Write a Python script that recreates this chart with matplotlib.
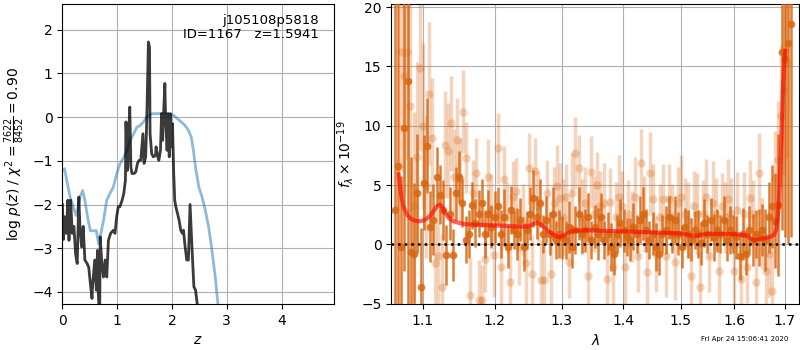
import numpy as np
import matplotlib
matplotlib.use("Agg")
import matplotlib.pyplot as plt

# left panel: smooth p(z) curve (blue) and noisy chi2-based curve (black)
z_smooth = [0.0, 0.04, 0.08, 0.14, 0.20, 0.25, 0.29, 0.32, 0.37, 0.41,
            0.46, 0.51, 0.57, 0.62, 0.66, 0.70, 0.75, 0.81, 0.87, 0.93,
            0.99, 1.05, 1.12, 1.18, 1.24, 1.30, 1.36, 1.42, 1.48, 1.54,
            1.60, 1.66, 1.79, 1.91, 2.03, 2.15, 2.23, 2.30, 2.35, 2.39,
            2.43, 2.49, 2.55, 2.61, 2.67, 2.73, 2.79, 2.84, 2.90]
logp_smooth = [-1.22, -1.18, -1.45, -1.83, -2.06, -2.25, -2.05, -1.83, -1.68, -1.9,
               -2.29, -2.6, -2.6, -2.6, -2.9, -2.67, -2.37, -1.9, -1.74, -1.6,
               -1.3, -1.07, -0.92, -0.76, -0.53, -0.38, -0.23, -0.19, -0.11, 0.0,
               0.06, 0.08, 0.08, 0.08, 0.04, -0.09, -0.18, -0.3, -0.45, -0.75,
               -1.15, -1.6, -1.83, -2.14, -2.52, -3.05, -3.66, -4.29, -5.0]

z_noisy = [0.0, 0.02, 0.04, 0.07, 0.10, 0.12, 0.15, 0.18, 0.21, 0.24,
           0.27, 0.30, 0.32, 0.35, 0.38, 0.41, 0.45, 0.48, 0.51, 0.54,
           0.55, 0.59, 0.62, 0.64, 0.66, 0.68, 0.69, 0.72, 0.75, 0.78,
           0.81, 0.84, 0.88, 0.93, 0.96, 0.99, 1.02, 1.05, 1.09, 1.12,
           1.15, 1.16, 1.19, 1.21, 1.23, 1.25, 1.27, 1.31, 1.34, 1.37,
           1.40, 1.43, 1.47, 1.49, 1.52, 1.54, 1.57, 1.59, 1.60, 1.63,
           1.66, 1.70, 1.71, 1.74, 1.76, 1.79, 1.81, 1.83, 1.85, 1.87,
           1.88, 1.91, 1.93, 1.95, 1.97, 1.99, 2.01, 2.03, 2.05, 2.07,
           2.10, 2.13, 2.16, 2.19, 2.21, 2.24, 2.27, 2.30, 2.33, 2.37,
           2.40, 2.43, 2.46, 2.49, 2.52]
logp_noisy = [-2.0, -2.8, -2.28, -2.66, -1.9, -2.82, -1.9, -2.66, -2.5, -3.12,
              -3.35, -1.83, -2.5, -2.97, -2.5, -3.27, -3.35, -3.43, -3.8, -4.15,
              -3.88, -3.27, -3.96, -3.05, -4.19, -4.6, -2.74, -3.35, -3.66, -3.27,
              -3.66, -2.82, -2.66, -2.59, -2.66, -2.28, -2.05, -2.05, -1.9, -1.75,
              -1.45, -0.11, -1.22, -0.38, 0.23, -1.14, -1.29, -1.29, -1.25, -1.06,
              -0.99, -0.99, -0.38, -1.06, -0.91, -0.04, 1.72, 1.6, -0.38, -0.84,
              -0.91, -0.87, -0.68, -0.91, -0.99, -0.76, 0.08, -0.53, 0.16, 0.77,
              0.16, -0.76, 0.08, -0.91, 0.08, -0.68, -0.15, -1.22, -1.9, -2.05,
              -2.2, -2.36, -2.59, -2.66, -2.59, -2.97, -3.27, -3.27, -2.0, -3.12,
              -3.88, -3.96, -4.27, -4.34, -4.6]

# right panel: binned spectrum (dark), unbinned spectrum (light), model (red)
flux_dark = [2.9, 6.6, -0.2, 9.8, 13.8, -0.6, -0.8, 4.3, -3.6, 5.2,
             8.3, 1.5, 2.1, 5.7, 4.2, 2.9, -0.9, 2.6, -0.9, 4.3,
             5.7, 3.5, 0.4, 0.9, 3.3, 1.8, 2.6, 3.5, 0.9, 2.6,
             1.5, 2.3, 3.2, 0.9, 2.3, -0.2, 2.9, 1.2, 0.9, 2.1,
             -0.2, 1.2, 2.6, 3.9, 2.3, 3.5, 0.9, 2.1, 0.9, 2.6,
             0.4, 0.9, 0.6, 0.4, 1.5, -0.2, 1.2, 2.6, 0.9, 1.2,
             2.3, 0.4, 1.5, 0.9, 2.3, 0.4, 0.9, -0.2, -0.8, 0.9,
             1.8, 1.2, 0.6, 0.4, 1.5, 0.9, 2.1, 2.6, 1.2, 0.4,
             0.9, -0.2, -0.8, 0.9, 1.2, 2.3, 0.9, 2.1, 0.9, -0.2,
             1.5, 0.9, 0.4, 1.2, 0.9, 0.1, 1.8, 0.9, 2.1, 0.6,
             1.2, 0.9, 2.1, 0.4, 1.2, 0.9, 0.6, -1.0, 0.9, -0.8,
             1.2, 0.4, 0.9, 0.6, 1.2, 0.4, 2.3, 3.2, 2.0, 3.3,
             16.2, 15.6, 17.0, 18.6]
err_dark = [30, 30, 6, 12, 25, 8, 6, 5, 5, 4,
            4, 3, 3, 2.5, 2.5, 2.5, 2.5, 2.2, 2.2, 2.2,
            2.2, 2.0, 2.0, 2.0, 2.0, 2.0, 2.0, 2.0, 2.0, 2.0,
            1.8, 2.2, 1.6, 2.0, 2.4, 1.8, 2.0, 1.6, 2.2, 1.8,
            2.0, 1.6, 2.2, 2.4, 1.8, 2.0, 1.6, 2.0, 1.8, 2.2,
            1.6, 2.0, 1.8, 1.6, 2.2, 1.8, 2.0, 2.2, 1.6, 1.8,
            2.0, 1.6, 1.8, 2.2, 2.0, 1.6, 1.8, 2.0, 1.8, 1.6,
            2.0, 1.8, 1.6, 1.8, 2.0, 1.6, 2.0, 2.2, 1.8, 1.6,
            1.8, 2.0, 1.8, 1.6, 2.0, 1.8, 1.6, 2.0, 1.8, 1.8,
            1.6, 2.0, 1.8, 1.6, 2.0, 1.8, 2.0, 1.6, 1.8, 2.0,
            1.8, 1.6, 2.0, 1.8, 2.0, 1.6, 1.8, 2.0, 2.2, 1.8,
            2.0, 2.2, 2.0, 2.4, 2.2, 2.6, 3.0, 3.5, 4.0, 6.0,
            15, 15, 17, 18]

flux_light = [16.2, 14.2, 16.2, 11.7, 3.2, 7.4, 14.9, 10.0, 4.9, 12.7,
              9.0, -1.6, -1.0, -3.6, 8.4, 7.9, 10.2, 5.7, 8.8, 5.5,
              11.2, 7.3, -4.3, 4.3, 6.0, -4.7, -4.7, -1.2, 5.7, 2.9,
              -0.9, 8.1, -1.9, 5.5, 2.3, -3.2, 4.0, 4.5, -0.2, 2.1,
              -1.6, 6.4, -2.5, 6.2, 3.2, -3.0, -3.0, 4.3, -2.5, 3.5,
              4.9, 3.9, 2.3, 4.0, -1.5, 4.3, 7.7, 6.4, 2.3, 3.5,
              -2.7, 6.1, 2.6, 5.0, 3.2, 3.5, -2.9, 3.6, -1.9, 2.3,
              4.0, 3.2, -1.9, 2.6, 1.5, 4.0, -1.0, 6.9, 2.6, -2.3,
              6.0, 3.8, -0.8, 2.3, 3.8, -1.0, 3.8, 2.3, -1.5, 3.5,
              4.0, 2.6, 2.1, -2.7, 3.2, 2.6, -3.6, 2.6, 4.0, -1.0,
              3.5, 2.6, -2.2, 3.2, 2.3, 3.8, 2.6, -2.2, 2.9, -2.9,
              2.6, -1.9, 3.9, 2.6, -3.2, 6.0, 0.9, -2.2, -0.8, -3.9,
              5.6, 7.1, 10.8, 12.9, 15.3]
err_light = [10, 10, 9, 9, 8, 8, 7, 7, 6, 6,
             5, 5, 5, 4.5, 4.5, 4, 4, 4, 3.5, 3.5,
             3.5, 3, 3.2, 2.8, 3, 3.4, 3, 2.8, 3.2, 3,
             3.5, 3, 3.2, 2.8, 3, 3.4, 3, 2.8, 3.2, 3,
             3.5, 3, 3.2, 2.8, 3, 3.4, 3, 2.8, 3.2, 3,
             3.5, 3, 3.2, 2.8, 3, 3.4, 3, 2.8, 3.2, 3,
             3.5, 3, 3.2, 2.8, 3, 3.4, 3, 2.8, 3.2, 3,
             3.5, 3, 3.2, 2.8, 3, 3.4, 3, 2.8, 3.2, 3,
             3.5, 3, 3.2, 2.8, 3, 3.4, 3, 2.8, 3.2, 3,
             3.5, 3, 3.2, 2.8, 3, 3.4, 3, 2.8, 3.2, 3,
             3.5, 3, 3.2, 2.8, 3, 3.4, 3, 2.8, 3.2, 3,
             3.5, 3, 3.2, 2.8, 3, 3.4, 3, 3.2, 3.6, 4,
             4, 5, 6, 7, 8]

lam_model = [1.069, 1.072, 1.075, 1.08, 1.085, 1.09, 1.095, 1.10, 1.105, 1.11,
             1.115, 1.12, 1.123, 1.126, 1.13, 1.135, 1.14, 1.15, 1.16, 1.18,
             1.20, 1.22, 1.24, 1.25, 1.258, 1.262, 1.268, 1.275, 1.283, 1.29,
             1.297, 1.303, 1.31, 1.32, 1.34, 1.37, 1.40, 1.43, 1.46, 1.49,
             1.505, 1.515, 1.525, 1.535, 1.55, 1.58, 1.61, 1.625, 1.633, 1.64,
             1.655, 1.67, 1.678, 1.683, 1.687, 1.69, 1.693, 1.696, 1.699, 1.701]
flux_model = [5.9, 4.2, 3.2, 2.5, 2.15, 2.0, 1.95, 2.0, 2.15, 2.4,
              2.85, 3.25, 3.35, 3.2, 2.7, 2.25, 2.0, 1.8, 1.7, 1.65,
              1.6, 1.55, 1.5, 1.55, 1.75, 1.85, 1.7, 1.35, 1.0, 0.75,
              0.6, 0.75, 1.0, 1.15, 1.2, 1.15, 1.1, 1.05, 1.0, 0.95,
              0.9, 0.8, 0.7, 0.8, 0.9, 0.88, 0.85, 0.75, 0.45, 0.35,
              0.5, 0.65, 0.8, 1.3, 3.0, 5.5, 9.0, 13.0, 15.5, 16.3]

lam_ticks = [1.1, 1.2, 1.3, 1.4, 1.5, 1.6, 1.7]

# wavelength grids (microns), evenly spaced in log
lam_dark = np.geomspace(1.064, 1.713, len(flux_dark))
lam_light = np.geomspace(1.072, 1.705, len(flux_light))

ORANGE = "#d9660f"

fig = plt.figure(figsize=(8, 3.5), dpi=100)
ax1 = fig.add_axes([0.078, 0.131, 0.339, 0.859])
ax2 = fig.add_axes([0.489, 0.131, 0.510, 0.859])

# --- p(z) panel
ax1.plot(z_smooth, logp_smooth, color="#1f77b4", alpha=0.5, lw=2)
ax1.plot(z_noisy, logp_noisy, color="k", alpha=0.77, lw=2)
ax1.set_xlim(0, 4.95)
ax1.set_ylim(-4.28, 2.6)
ax1.set_xticks([0, 1, 2, 3, 4])
ax1.grid(True)
ax1.set_xlabel("$z$")
ax1.set_ylabel(r"log $p(z)$ / $\chi^2=\frac{7622}{8452}=0.90$")
ax1.text(0.945, 0.965, "j105108p5818\nID=1167   z=1.5941", transform=ax1.transAxes,
         ha="right", va="top", fontsize=9.5, linespacing=1.1)

# --- spectrum panel
ax2.errorbar(lam_light, flux_light, yerr=err_light, fmt="o", color=ORANGE, alpha=0.28,
             ms=6, mec="none", elinewidth=2.5, capsize=0, zorder=2)
ax2.errorbar(lam_dark, flux_dark, yerr=err_dark, fmt="o", color=ORANGE, alpha=0.85,
             ms=5.5, mec="none", elinewidth=1.8, capsize=0, zorder=3)
ax2.plot(lam_model, flux_model, color="red", alpha=0.6, lw=3, zorder=4)
ax2.axhline(0, color="k", ls=":", lw=1.8, zorder=5)
ax2.set_xscale("log")
ax2.set_xlim(1.0594, 1.7295)
ax2.set_ylim(-5.03, 20.3)
ax2.set_xticks(lam_ticks)
ax2.set_xticklabels([f"{v:.1f}" for v in lam_ticks])
ax2.xaxis.set_minor_locator(matplotlib.ticker.NullLocator())
ax2.grid(True)
ax2.set_xlabel(r"$\lambda$")
ax2.set_ylabel(r"$f_\lambda \times 10^{-19}$")

fig.text(0.985, 0.031, "Fri Apr 24 15:06:41 2020", ha="right", va="center", fontsize=5)

fig.savefig("out.png", dpi=100)
